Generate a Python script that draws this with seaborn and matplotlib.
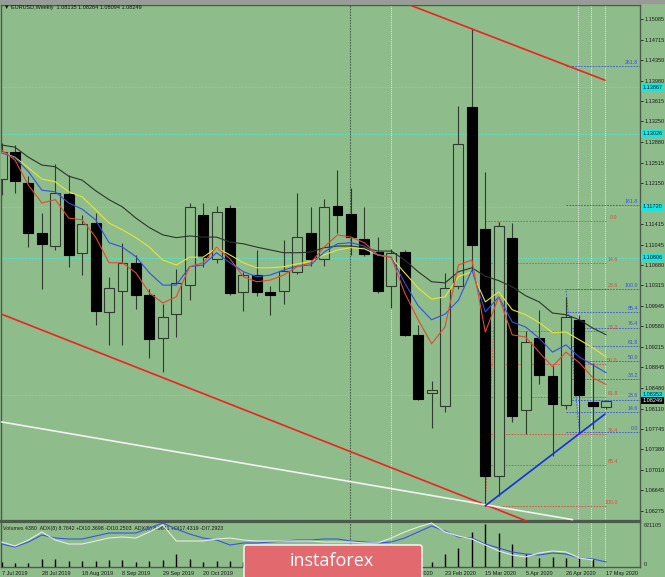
import numpy as np
import pandas as pd
import matplotlib
matplotlib.use("Agg")
import matplotlib.pyplot as plt
import matplotlib.patches as mpatches
import matplotlib.transforms as mtrans
import seaborn as sns

# weekly EURUSD bars, 7 Jul 2019 .. 17 May 2020
opens = [1.1222, 1.1270, 1.1215, 1.1125, 1.1102, 1.1195, 1.1090, 1.1143, 1.0984, 1.1022,
         1.1072, 1.1014, 1.0937, 1.0980, 1.1032, 1.1158, 1.1079, 1.1170, 1.1019, 1.1050,
         1.1019, 1.1022, 1.1056, 1.1125, 1.1079, 1.1174, 1.1160, 1.1115, 1.1091, 1.1030,
         1.1091, 1.0943, 1.0839, 1.0815, 1.1030, 1.1351, 1.1133, 1.0690, 1.1116, 1.0809,
         1.0937, 1.0869, 1.0818, 1.0970, 1.0823, 1.08135]
highs = [1.1286, 1.1283, 1.1227, 1.1161, 1.1249, 1.1229, 1.1158, 1.1161, 1.1047, 1.1107,
         1.1086, 1.1025, 1.0999, 1.1061, 1.1179, 1.1179, 1.1174, 1.1175, 1.1055, 1.1095,
         1.1030, 1.1113, 1.1197, 1.1172, 1.1186, 1.1238, 1.1206, 1.1172, 1.1118, 1.1096,
         1.1095, 1.0961, 1.0860, 1.1053, 1.1353, 1.1492, 1.1235, 1.1145, 1.1143, 1.0950,
         1.0987, 1.0887, 1.1011, 1.0978, 1.0893, 1.08264]
lows = [1.1193, 1.1197, 1.1100, 1.1025, 1.1095, 1.1065, 1.1050, 1.0961, 1.0925, 1.0925,
        1.0989, 1.0902, 1.0876, 1.0939, 1.1005, 1.1064, 1.1072, 1.1014, 1.0986, 1.1012,
        1.0979, 1.0999, 1.1052, 1.1066, 1.1066, 1.1125, 1.1086, 1.1084, 1.1018, 1.0991,
        1.0940, 1.0827, 1.0776, 1.0805, 1.1025, 1.1055, 1.0636, 1.0655, 1.0787, 1.0766,
        1.0855, 1.0726, 1.0811, 1.0767, 1.0774, 1.08094]
closes = [1.1271, 1.1218, 1.1125, 1.1106, 1.1197, 1.1086, 1.1141, 1.0986, 1.1027, 1.1072,
          1.1014, 1.0935, 1.0975, 1.1036, 1.1172, 1.1082, 1.1163, 1.1018, 1.1050, 1.1019,
          1.1014, 1.1057, 1.1118, 1.1079, 1.1172, 1.1158, 1.1118, 1.1088, 1.1022, 1.1090,
          1.0943, 1.0828, 1.0844, 1.1027, 1.1284, 1.1104, 1.0690, 1.1138, 1.0798, 1.0930,
          1.0871, 1.0820, 1.0975, 1.0835, 1.0816, 1.08249]
volumes = [95000, 76000, 76000, 153000, 153000, 115000, 115000, 115000, 134000, 134000,
           95000, 115000, 134000, 248000, 153000, 95000, 115000, 115000, 95000, 95000,
           76000, 115000, 115000, 95000, 57000, 95000, 115000, 115000, 115000, 115000,
           115000, 115000, 95000, 248000, 363000, 668000, 821105, 649000, 439000, 248000,
           172000, 191000, 172000, 172000, 153000, 4380]

# moving averages
ma_black = [1.1283, 1.1279, 1.1261, 1.1247, 1.1244, 1.1227, 1.1220, 1.1201, 1.1185, 1.1172,
            1.1152, 1.1135, 1.1122, 1.1117, 1.1120, 1.1118, 1.1118, 1.1109, 1.1106, 1.1100,
            1.1095, 1.1090, 1.1090, 1.1091, 1.1099, 1.1102, 1.1102, 1.1099, 1.1093, 1.1093,
            1.1077, 1.1056, 1.1038, 1.1036, 1.1056, 1.1063, 1.1048, 1.1040, 1.1029, 1.1013,
            1.1002, 1.0982, 1.0979, 1.0970, 1.0955, 1.0943]
ma_yellow = [1.1270, 1.1261, 1.1242, 1.1222, 1.1217, 1.1199, 1.1190, 1.1167, 1.1143, 1.1131,
             1.1117, 1.1100, 1.1077, 1.1068, 1.1082, 1.1082, 1.1099, 1.1086, 1.1072, 1.1063,
             1.1063, 1.1065, 1.1070, 1.1074, 1.1086, 1.1095, 1.1099, 1.1097, 1.1086, 1.1082,
             1.1054, 1.1027, 1.1007, 1.1011, 1.1047, 1.1056, 1.1002, 1.1020, 1.0988, 1.0979,
             1.0965, 1.0947, 1.0948, 1.0934, 1.0920, 1.0903]
ma_blue = [1.1269, 1.1260, 1.1235, 1.1202, 1.1199, 1.1179, 1.1168, 1.1149, 1.1108, 1.1100,
           1.1083, 1.1054, 1.1032, 1.1032, 1.1065, 1.1068, 1.1090, 1.1072, 1.1056, 1.1047,
           1.1050, 1.1059, 1.1066, 1.1068, 1.1091, 1.1106, 1.1108, 1.1102, 1.1086, 1.1082,
           1.1036, 1.0995, 1.0970, 1.0980, 1.1005, 1.1059, 1.0984, 1.1011, 1.0966, 1.0957,
           1.0937, 1.0912, 1.0925, 1.0903, 1.0889, 1.0875]
ma_red = [1.1274, 1.1256, 1.1211, 1.1179, 1.1185, 1.1152, 1.1149, 1.1118, 1.1072, 1.1072,
          1.1054, 1.1018, 1.1000, 1.1011, 1.1065, 1.1072, 1.1100, 1.1079, 1.1047, 1.1038,
          1.1041, 1.1050, 1.1065, 1.1072, 1.1100, 1.1122, 1.1118, 1.1108, 1.1086, 1.1082,
          1.1018, 1.0970, 1.0927, 1.0957, 1.1068, 1.1077, 1.0948, 1.1011, 1.0943, 1.0939,
          1.0912, 1.0886, 1.0912, 1.0893, 1.0866, 1.0854]

# ADX lines in the lower window
adx_blue = [23, 20, 25, 32, 29, 28, 28, 31, 34, 34, 34, 39, 44, 38, 33, 29, 27, 22, 24, 24,
            25, 26, 27, 27, 28, 28, 26, 25, 24, 25, 29, 35, 41, 36, 30, 29, 23, 19, 15, 13,
            12, 14, 13, 9, 8, 5]
adx_white = [25, 21, 27, 35, 27, 23, 23, 26, 29, 30, 29, 35, 42, 26, 26, 26, 28, 29, 27, 26,
             26, 26, 26, 26, 25, 25, 25, 24, 24, 29, 35, 40, 44, 35, 31, 28, 22, 16, 12, 10,
             14, 16, 15, 9, 7]

date_ticks = [0, 3, 6, 9, 12, 15, 18, 21, 24, 27, 30, 33, 36, 39, 42, 45]
date_labels = ["7 Jul 2019", "28 Jul 2019", "18 Aug 2019", "8 Sep 2019", "29 Sep 2019",
               "20 Oct 2019", "10 Nov 2019", "1 Dec 2019", "22 Dec 2019", "12 Jan 2020",
               "2 Feb 2020", "23 Feb 2020", "15 Mar 2020", "5 Apr 2020", "26 Apr 2020",
               "17 May 2020"]
# 1.11780 sits under the cyan marker in the reference, so it is not listed
price_ticks = ["1.15085", "1.14715", "1.14350", "1.13980", "1.13615", "1.13250", "1.12880",
               "1.12515", "1.12150", "1.11415", "1.11045", "1.10680", "1.10315",
               "1.09945", "1.09580", "1.09215", "1.08845", "1.08480", "1.08110", "1.07745",
               "1.07380", "1.07010", "1.06645", "1.06275"]

cyan_levels = [1.13867, 1.13026, 1.11720, 1.10806, 1.08353]
red_fib_names = ["0.0", "14.6", "23.6", "38.2", "50.0", "61.8", "76.4", "85.4", "100.0"]
red_fib_prices = [1.1146, 1.1072, 1.1025, 1.0950, 1.0891, 1.0832, 1.0766, 1.0710, 1.0636]
blue_fib_names = ["0.0", "14.6", "23.6", "38.2", "50.0", "61.8", "76.4", "85.4", "100.0",
                  "161.8", "261.8"]
blue_fib_prices = [1.0769, 1.0805, 1.0827, 1.0864, 1.0896, 1.0923, 1.0956, 1.0983, 1.1025,
                   1.1176, 1.1424]
upper_red_line = ([29.8, 44.9], [1.1539, 1.1399])
lower_red_line = ([0.0, 40.5], [1.0980, 1.0596])
white_line = ([0.0, 42.5], [1.0787, 1.0612])
blue_line = ([36.0, 44.9], [1.0637, 1.0801])
dark_vlines = [25.9]
white_vlines = [29, 42.9, 43.9, 44.9]

BG = "#8fbc8b"
EDGE = "#2f3b2f"

sns.set_style("white")
plt.rcParams["font.family"] = ["Liberation Sans", "DejaVu Sans"]

fig = plt.figure(figsize=(6.65, 5.77), dpi=100)
fig.patch.set_facecolor(BG)
ax = fig.add_axes([1 / 665, 1 - 521 / 577, 639 / 665, 516 / 577])
axv = fig.add_axes([1 / 665, 1 - 567 / 577, 639 / 665, 45 / 577])
for a in (ax, axv):
    a.set_facecolor(BG)
    a.set_xlim(-0.04, 47.51)
    for s in a.spines.values():
        s.set_color("#4b5a4b")
        s.set_linewidth(1.0)
ax.spines["bottom"].set_linewidth(1.6)
axv.spines["top"].set_linewidth(1.6)
ax.set_ylim(1.06096, 1.15336)

idx = np.arange(len(opens))
o, h, l, c = map(np.array, (opens, highs, lows, closes))
bull = c >= o

# horizontal support / resistance levels
for p in cyan_levels:
    ax.axhline(p, color="#4fe3d4", lw=0.6, ls=(0, (3, 1)), zorder=1)
for x in dark_vlines:
    for a in (ax, axv):
        a.axvline(x, color="#4e5e4e", lw=0.8, ls=(0, (1.5, 1)), zorder=1)
for x in white_vlines:
    for a in (ax, axv):
        a.axvline(x, color="#dfe9df", lw=0.6, ls=(0, (1.5, 1)), zorder=1)

# candles
ax.vlines(idx, l, h, color=EDGE, lw=0.8, zorder=3)
body_lo = np.minimum(o, c)
body_h = np.maximum(np.abs(c - o), 0.00008)
ax.bar(idx, body_h, bottom=body_lo, width=0.74,
       color=np.where(bull, BG, "black"), edgecolor=np.where(bull, EDGE, "black"),
       linewidth=0.8, zorder=4)

ma = pd.DataFrame({
    "bar": np.tile(idx, 4),
    "price": ma_black + ma_yellow + ma_blue + ma_red,
    "line": ["black"] * 46 + ["yellow"] * 46 + ["blue"] * 46 + ["red"] * 46,
})
sns.lineplot(data=ma, x="bar", y="price", hue="line", sort=False, legend=False, ax=ax,
             palette={"black": "#2b352b", "yellow": "#e6e635", "blue": "#3250e6",
                      "red": "#e04a32"}, lw=0.8, zorder=5)

# fibonacci grids
for name, p in zip(red_fib_names, red_fib_prices):
    ax.plot([36, 45], [p, p], color="#e04a3a", lw=0.6, ls=(0, (2, 1.5)), zorder=2)
    ax.text(45.85, p + 0.0002, name, color="#e04a3a", fontsize=3.8, ha="right", va="bottom")
ax.plot([36, 37], [red_fib_prices[-1], red_fib_prices[0]], color="#e04a3a", lw=0.6,
        ls=(0, (2, 1.5)), zorder=2)
for name, p in zip(blue_fib_names, blue_fib_prices):
    ax.plot([42, 47.5], [p, p], color="#3550e0", lw=0.6, ls=(0, (2, 1.5)), zorder=2)
    ax.text(47.35, p + 0.0002, name, color="#3550e0", fontsize=3.8, ha="right", va="bottom")
ax.plot([43, 42], [blue_fib_prices[0], blue_fib_prices[8]], color="#3550e0", lw=0.6,
        ls=(0, (2, 1.5)), zorder=2)

# trend lines
ax.plot(*upper_red_line, color="#ee2222", lw=1.2, zorder=6)
ax.plot(*lower_red_line, color="#ee2222", lw=1.2, zorder=6)
ax.plot(*white_line, color="#f2f2f2", lw=1.2, zorder=6)
ax.plot(*blue_line, color="#1530e0", lw=1.2, zorder=6)

# right price scale
ax.yaxis.tick_right()
ax.set_yticks([float(t) for t in price_ticks])
ax.set_yticklabels(price_ticks)
ax.tick_params(axis="y", length=2, width=0.6, pad=1.5, labelsize=4, colors="#1a1a1a")
ax.set_xticks([])
ax.set_xlabel("")
ax.set_ylabel("")
tr = mtrans.blended_transform_factory(ax.transAxes, ax.transData)
for p in cyan_levels:
    ax.text(1.004, p, f"{p:.5f}", transform=tr, fontsize=4, va="center", ha="left",
            color="#1a1a1a", bbox=dict(boxstyle="square,pad=0.2", fc="#18e4e4", ec="none"))
ax.text(1.004, closes[-1], f"{closes[-1]:.5f}", transform=tr, fontsize=4, va="center",
        ha="left", color="white", bbox=dict(boxstyle="square,pad=0.2", fc="black", ec="none"))

# volumes + ADX window
axv.vlines(idx, 0, volumes, color="black", lw=1.0, zorder=3)
axv.set_ylim(0, 821105 * 45 / 43)
axv.set_yticks([])
axa = axv.twinx()
adx = pd.DataFrame({
    "bar": np.concatenate([idx, idx[:len(adx_white)]]),
    "value": adx_blue + adx_white,
    "line": ["adx"] * len(adx_blue) + ["di"] * len(adx_white),
})
sns.lineplot(data=adx, x="bar", y="value", hue="line", sort=False, legend=False, ax=axa,
             palette={"adx": "#3a55e0", "di": "#e4ece4"}, lw=0.8, zorder=4)
axa.set_ylim(0, 45)
axa.set_yticks([])
axa.set_ylabel("")
for s in axa.spines.values():
    s.set_visible(False)
axv.set_xticks(date_ticks)
axv.set_xticklabels(date_labels, ha="left", fontsize=4)
axv.tick_params(axis="x", length=2, width=0.6, pad=1, colors="#1a1a1a")
axv.set_xlabel("")
axv.text(1.006, 0.92, "821105", transform=axv.transAxes, fontsize=4, va="center")
axv.text(1.006, 0.05, "0", transform=axv.transAxes, fontsize=4, va="center")
axv.text(0.003, 0.86, "Volumes 4380  ADX(8) 8.7642 +DI10.3698 -DI10.2503  ADX(5) 8.9641 "
         "+DI17.4319 -DI7.2923", transform=axv.transAxes, fontsize=3.8, va="center",
         color="#1a1a1a")

# header, top strip, watermark
fig.patches.append(mpatches.Rectangle((0, 1 - 3 / 577), 1, 3 / 577, transform=fig.transFigure,
                                      color="#9a9a9a", zorder=0))
fig.text(4 / 665, 1 - 8 / 577, "\u25bc EURUSD,Weekly  1.08135 1.08264 1.08094 1.08249",
         fontsize=4, va="center", color="#111111")
logo = mpatches.FancyBboxPatch((244 / 665, -0.02), 178 / 665, 0.02 + 32 / 577,
                               boxstyle="round,pad=0,rounding_size=0.004",
                               transform=fig.transFigure, fc="#e2696d", ec="white", lw=1.0,
                               zorder=10)
fig.patches.append(logo)
fig.text(332 / 665, 1 - 561 / 577, "instaforex", color="white", fontsize=13,
         family=["Open Sans", "DejaVu Sans"], ha="center", va="center", zorder=11)

fig.savefig("out.png", dpi=100, facecolor=BG)
